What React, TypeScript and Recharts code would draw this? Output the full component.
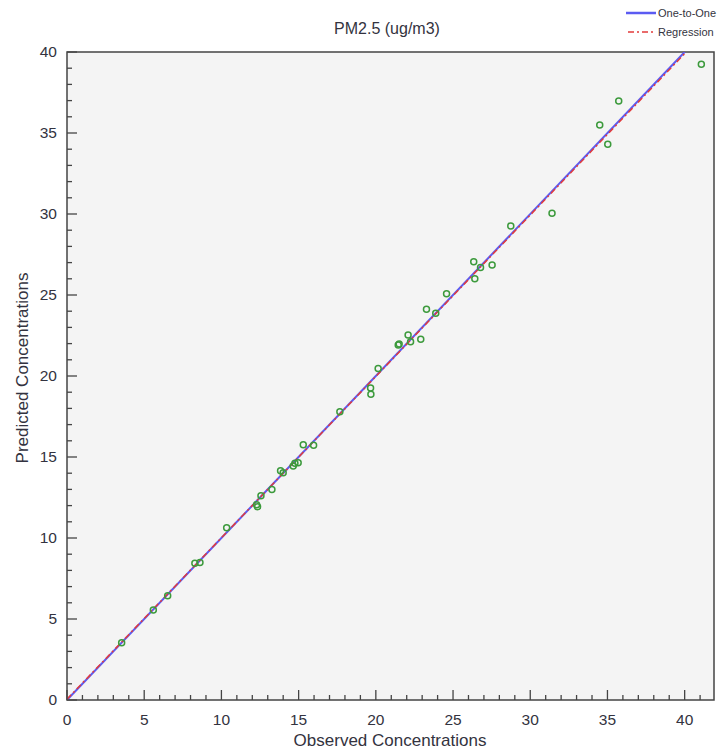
import React from "react";
import { ScatterChart, Scatter, XAxis, YAxis, CartesianGrid, ReferenceArea } from "recharts";

const observed = [
  3.54, 5.59, 6.52, 8.28, 8.61, 10.34, 12.28, 12.34, 12.56, 13.27, 13.83, 14.0, 14.65, 14.76,
  14.97, 15.3, 15.97, 17.67, 19.66, 19.68, 20.15, 21.45, 21.51, 22.09, 22.25, 22.91, 23.28,
  23.88, 24.58, 26.34, 26.41, 26.78, 27.53, 28.74, 31.41, 34.5, 35.02, 35.73, 41.08,
];
const predicted = [
  3.54, 5.56, 6.44, 8.44, 8.48, 10.64, 12.05, 11.93, 12.61, 13.0, 14.15, 14.03, 14.44, 14.61,
  14.65, 15.76, 15.72, 17.8, 19.26, 18.87, 20.47, 21.91, 21.98, 22.53, 22.12, 22.27, 24.12,
  23.87, 25.07, 27.06, 26.01, 26.69, 26.85, 29.26, 30.04, 35.49, 34.3, 36.98, 39.24,
];

const oneToOneX = [0, 40];
const oneToOneY = [0, 40];
const regressionX = [0, 40.1];
const regressionY = [0.05, 40];

const xTicks = [
  0, 1, 2, 3, 4, 5, 6, 7, 8, 9, 10, 11, 12, 13, 14, 15, 16, 17, 18, 19, 20, 21, 22, 23, 24, 25,
  26, 27, 28, 29, 30, 31, 32, 33, 34, 35, 36, 37, 38, 39, 40, 41,
];
const yTicks = [
  0, 1, 2, 3, 4, 5, 6, 7, 8, 9, 10, 11, 12, 13, 14, 15, 16, 17, 18, 19, 20, 21, 22, 23, 24, 25,
  26, 27, 28, 29, 30, 31, 32, 33, 34, 35, 36, 37, 38, 39, 40,
];

const FONT = '"Liberation Sans", Arial, sans-serif';
const TEXT = "#333340";
const AXIS = "#444";

// plot box edges, follow from the chart margins / axis sizes below
const PLOT_LEFT = 67;
const PLOT_BOTTOM = 700;

const points = observed.map((x, i) => ({ x, y: predicted[i] }));
const oneToOne = oneToOneX.map((x, i) => ({ x, y: oneToOneY[i] }));
const regression = regressionX.map((x, i) => ({ x, y: regressionY[i] }));

const XTick = (props: any) => {
  const { x, payload } = props;
  const v = payload.value;
  const major = v % 5 === 0;
  return (
    <g>
      <line
        x1={x}
        x2={x}
        y1={PLOT_BOTTOM}
        y2={PLOT_BOTTOM - (major ? 10 : 5)}
        stroke={AXIS}
        strokeWidth={1.3}
      />
      {major && (
        <text x={x} y={PLOT_BOTTOM + 25} textAnchor="middle" fontSize={15.5} fontFamily={FONT} fill={TEXT}>
          {v}
        </text>
      )}
    </g>
  );
};

const YTick = (props: any) => {
  const { y, payload } = props;
  const v = payload.value;
  const major = v % 5 === 0;
  return (
    <g>
      <line
        x1={PLOT_LEFT}
        x2={PLOT_LEFT + (major ? 10 : 5)}
        y1={y}
        y2={y}
        stroke={AXIS}
        strokeWidth={1.3}
      />
      {major && (
        <text x={PLOT_LEFT - 10} y={y + 5} textAnchor="end" fontSize={15.5} fontFamily={FONT} fill={TEXT}>
          {v}
        </text>
      )}
    </g>
  );
};

const Ring = (props: any) => {
  const { cx, cy } = props;
  if (cx == null || cy == null) return <g />;
  return <circle cx={cx} cy={cy} r={3} fill="none" stroke="#3c9a3c" strokeWidth={1.5} />;
};

const NoShape = () => <g />;

export default function App() {
  return (
    <div style={{ position: "absolute", left: 0, top: 0, width: 727, height: 752, background: "#fff" }}>
      <ScatterChart width={727} height={752} margin={{ top: 52, right: 13, bottom: 0, left: 0 }}>
        <CartesianGrid fill="#f4f4f4" horizontal={false} vertical={false} />
        <XAxis
          type="number"
          dataKey="x"
          domain={[0, 41.9]}
          allowDataOverflow
          ticks={xTicks}
          interval={0}
          tick={<XTick />}
          tickLine={false}
          axisLine={false}
          height={52}
        />
        <YAxis
          type="number"
          dataKey="y"
          domain={[0, 40]}
          allowDataOverflow
          ticks={yTicks}
          interval={0}
          tick={<YTick />}
          tickLine={false}
          axisLine={false}
          width={67}
        />
        <Scatter
          data={oneToOne}
          line={{ stroke: "#5b5bf2", strokeWidth: 2 }}
          shape={NoShape}
          isAnimationActive={false}
        />
        <Scatter
          data={regression}
          line={{ stroke: "#e23b3b", strokeWidth: 1.5, strokeDasharray: "6 3 2 3" }}
          shape={NoShape}
          isAnimationActive={false}
        />
        <Scatter data={points} shape={<Ring />} isAnimationActive={false} />
        <ReferenceArea x1={0} x2={41.9} y1={0} y2={40} fill="none" stroke={AXIS} strokeWidth={1.5} ifOverflow="visible" />
      </ScatterChart>
      <svg
        width={727}
        height={752}
        style={{ position: "absolute", left: 0, top: 0, pointerEvents: "none" }}
        fontFamily={FONT}
      >
        <text x={387} y={34} textAnchor="middle" fontSize={16} fill={TEXT}>
          PM2.5 (ug/m3)
        </text>
        <text x={390} y={746} textAnchor="middle" fontSize={17} fill={TEXT}>
          Observed Concentrations
        </text>
        <text
          x={28}
          y={368}
          textAnchor="middle"
          fontSize={17}
          fill={TEXT}
          transform="rotate(-90 28 368)"
        >
          Predicted Concentrations
        </text>
        <line x1={626} x2={656} y1={13} y2={13} stroke="#5b5bf2" strokeWidth={2.5} />
        <text x={658} y={17} fontSize={11} fill={TEXT}>
          One-to-One
        </text>
        <line x1={628} x2={655} y1={32} y2={32} stroke="#e23b3b" strokeWidth={1.5} strokeDasharray="6 3 2 3" />
        <text x={658} y={36} fontSize={11} fill={TEXT}>
          Regression
        </text>
      </svg>
    </div>
  );
}
